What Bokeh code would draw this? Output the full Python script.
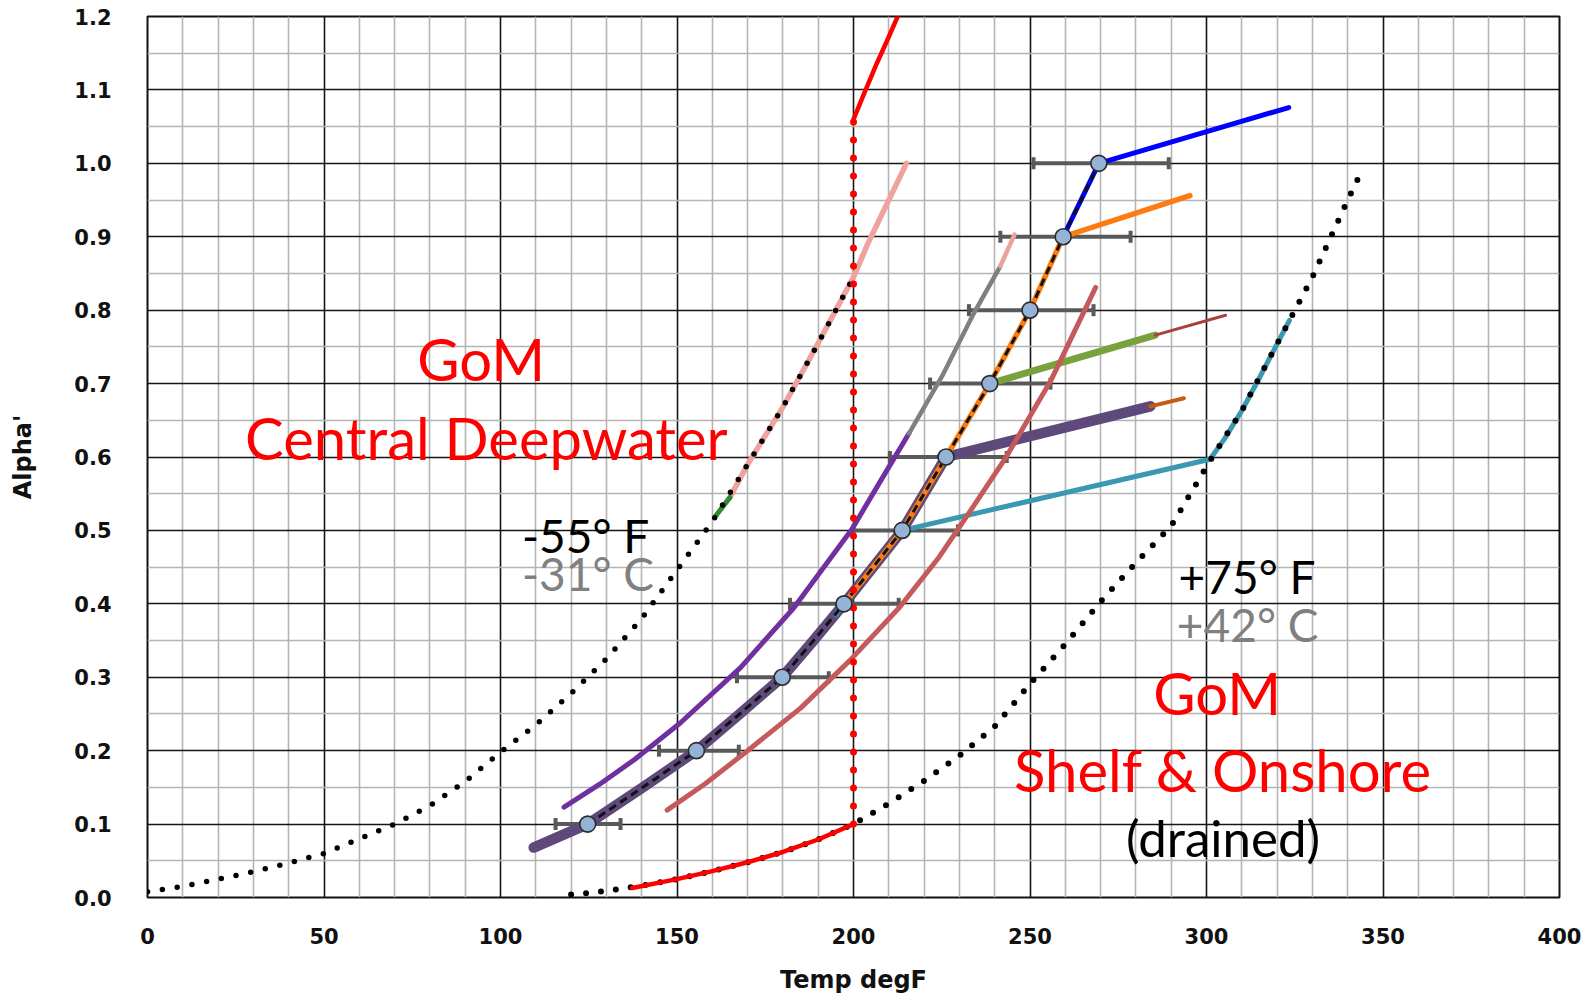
from bokeh.plotting import figure
from bokeh.models import (Range1d, FixedTicker, PrintfTickFormatter, Label,
                          Whisker, TeeHead, ColumnDataSource)
from bokeh.embed import file_html
from bokeh.resources import INLINE

# ---------------- data ----------------
x_ticks = [0, 50, 100, 150, 200, 250, 300, 350, 400]
y_ticks = [0.0, 0.1, 0.2, 0.3, 0.4, 0.5, 0.6, 0.7, 0.8, 0.9, 1.0, 1.1, 1.2]
x_minor = [10, 20, 30, 40, 60, 70, 80, 90, 110, 120, 130, 140, 160, 170, 180, 190,
           210, 220, 230, 240, 260, 270, 280, 290, 310, 320, 330, 340, 360, 370, 380, 390]
y_minor = [0.05, 0.15, 0.25, 0.35, 0.45, 0.55, 0.65, 0.75, 0.85, 0.95, 1.05, 1.15]

# measured points with horizontal error bars
lab_temp = [124.7, 155.5, 179.8, 197.3, 213.8, 226.2, 238.6, 250.0, 259.4, 269.5]
lab_alpha = [0.1, 0.2, 0.3, 0.4, 0.5, 0.6, 0.7, 0.8, 0.9, 1.0]
err_lo = [115.6, 144.9, 167.0, 182.0, 200.0, 210.3, 221.7, 232.7, 241.6, 251.0]
err_hi = [134.0, 167.5, 193.0, 212.8, 229.6, 243.4, 255.8, 268.0, 278.5, 289.3]

# main trend (thick purple, branching at 0.6)
purple_x = [109.4, 124.7, 140.0, 155.5, 167.5, 179.8, 188.5, 197.3, 213.8, 226.2, 284.1]
purple_y = [0.068, 0.1, 0.149, 0.2, 0.249, 0.3, 0.349, 0.4, 0.5, 0.6, 0.669]
purple_tail_x = [284.1, 293.6]
purple_tail_y = [0.669, 0.680]

orange_x = [199.0, 213.8, 226.2, 238.6, 250.0, 259.4, 295.3]
orange_y = [0.41, 0.5, 0.6, 0.7, 0.8, 0.9, 0.956]

blue_x = [259.4, 269.5, 323.3]
blue_y = [0.9, 1.0, 1.076]

teal_x = [195.0, 197.3, 213.8, 301.0, 305.0, 310.0, 315.0, 320.0, 323.5]
teal_y = [0.385, 0.4, 0.5, 0.597, 0.624, 0.663, 0.708, 0.754, 0.786]

green_x = [238.6, 285.5]
green_y = [0.7, 0.766]
green_tail_x = [285.5, 305.4]
green_tail_y = [0.766, 0.793]

dash_x = [124.7, 140.0, 155.5, 167.5, 179.8, 188.5, 197.3, 213.8, 226.2, 238.6, 250.0, 259.4, 269.5]
dash_y = [0.1, 0.149, 0.2, 0.249, 0.3, 0.349, 0.4, 0.5, 0.6, 0.7, 0.8, 0.9, 1.0]

# upper-left curve family
violet_x = [118.0, 128.0, 138.0, 151.0, 168.0, 183.0, 199.6, 207.0, 215.7]
violet_y = [0.123, 0.154, 0.188, 0.238, 0.313, 0.394, 0.502, 0.562, 0.632]
gray_x = [215.7, 225.1, 234.0, 241.6]
gray_y = [0.632, 0.71, 0.795, 0.86]
pink2_x = [241.6, 245.6]
pink2_y = [0.86, 0.903]

rose_x = [147.2, 158.0, 170.0, 185.0, 199.0, 213.0, 224.0, 234.0, 243.0, 256.0, 268.6]
rose_y = [0.119, 0.155, 0.2, 0.258, 0.323, 0.395, 0.462, 0.533, 0.598, 0.705, 0.831]

# -55 F envelope (left dotted)
left_x = [0, 10, 20, 30, 40, 50, 60, 70, 80, 90, 100, 110, 120, 130, 140, 150,
          160, 170, 180, 190, 200]
left_y = [0.008, 0.015, 0.025, 0.035, 0.047, 0.06, 0.08, 0.1, 0.125, 0.158, 0.198,
          0.235, 0.278, 0.325, 0.38, 0.446, 0.512, 0.59, 0.668, 0.755, 0.845]
greenbit_x = [161.0, 165.0]
greenbit_y = [0.52, 0.545]
pink_x = [165.0, 170.0, 180.0, 190.0, 200.0, 204.0, 208.0, 215.0]
pink_y = [0.545, 0.59, 0.668, 0.755, 0.845, 0.89, 0.93, 1.0]

# +75 F envelope (right dotted)
right_x = [120, 125, 130, 140, 150, 160, 170, 180, 190, 200, 210, 220, 230, 240,
           250, 260, 270, 280, 290, 301, 310, 320, 330, 340, 344]
right_y = [0.004, 0.006, 0.009, 0.016, 0.025, 0.036, 0.048, 0.062, 0.079, 0.1,
           0.128, 0.159, 0.193, 0.233, 0.291, 0.345, 0.403, 0.456, 0.506, 0.595,
           0.663, 0.754, 0.845, 0.95, 0.99]

# red 200 F boundary
red_low_x = [137.3, 150.0, 160.0, 170.0, 180.0, 190.0, 200.0]
red_low_y = [0.013, 0.025, 0.036, 0.048, 0.062, 0.079, 0.1]
red_vert_x = [200.0, 200.0]
red_vert_y = [0.1, 1.06]
red_top_x = [200.0, 203.0, 206.5, 209.6, 212.5]
red_top_y = [1.06, 1.095, 1.135, 1.168, 1.2]

# ---------------- figure ----------------
p = figure(frame_width=1412, frame_height=881,
           min_border_left=147, min_border_right=24, min_border_top=16, min_border_bottom=80,
           x_range=Range1d(0, 400), y_range=Range1d(0, 1.2),
           output_backend="svg", toolbar_location=None)
p.background_fill_color = "white"
p.outline_line_color = "#111111"
p.outline_line_width = 2

xt = FixedTicker(ticks=x_ticks, minor_ticks=x_minor)
yt = FixedTicker(ticks=y_ticks, minor_ticks=y_minor)
p.xaxis.ticker = xt
p.yaxis.ticker = yt
p.xgrid.ticker = xt
p.ygrid.ticker = yt
for g in (p.xgrid, p.ygrid):
    g.grid_line_color = "#161616"
    g.grid_line_width = 1.6
    g.minor_grid_line_color = "#b4b4b4"
    g.minor_grid_line_width = 1.6

p.yaxis.formatter = PrintfTickFormatter(format="%.1f")
for ax in (p.xaxis, p.yaxis):
    ax.axis_line_color = None
    ax.major_tick_line_color = None
    ax.minor_tick_line_color = None
    ax.major_label_text_font = "DejaVu Sans"
    ax.major_label_text_font_style = "bold"
    ax.major_label_text_font_size = "21px"
    ax.major_label_text_color = "#111111"
    ax.axis_label_text_font = "DejaVu Sans"
    ax.axis_label_text_font_style = "bold"
    ax.axis_label_text_font_size = "24px"
    ax.axis_label_text_color = "#111111"
p.xaxis.axis_label = "Temp degF"
p.yaxis.axis_label = "Alpha'"
p.xaxis.major_label_standoff = 24
p.yaxis.major_label_standoff = 30
p.xaxis.axis_label_standoff = 19
p.yaxis.axis_label_standoff = 34

# error bars
src = ColumnDataSource(dict(y=lab_alpha, lo=err_lo, hi=err_hi))
wc = "#595959"
wh = Whisker(source=src, base="y", lower="lo", upper="hi", dimension="width",
             line_color=wc, line_width=4,
             lower_head=TeeHead(size=12, line_color=wc, line_width=4),
             upper_head=TeeHead(size=12, line_color=wc, line_width=4))
p.add_layout(wh)

def ln(x, y, color, w, dash="solid", cap="round"):
    p.line(x, y, line_color=color, line_width=w, line_dash=dash, line_cap=cap,
           line_join="round")

# curves
ln(violet_x, violet_y, "#7030a0", 5)
ln(gray_x, gray_y, "#808080", 4.5)
ln(pink2_x, pink2_y, "#eba29d", 4.5)
ln(purple_x, purple_y, "#5f497a", 10.5)
ln(purple_tail_x, purple_tail_y, "#c65b12", 4)
ln(teal_x, teal_y, "#3a98b0", 5)
ln(orange_x, orange_y, "#fb7d12", 5.5)
ln(green_x, green_y, "#79a23f", 7)
ln(green_tail_x, green_tail_y, "#a8403c", 3)
ln(blue_x, blue_y, "#0000ff", 5)
ln(rose_x, rose_y, "#c55a5a", 5)
ln(dash_x, dash_y, "#111111", 3, dash="8 5", cap="butt")

# envelopes
ln(pink_x, pink_y, "#eea39e", 5.5)
ln(greenbit_x, greenbit_y, "#2e8b2e", 5)
ln(left_x, left_y, "#000000", 5.5, dash="0 15")
ln(right_x, right_y, "#000000", 6, dash="0 15")

ln(red_low_x, red_low_y, "#ff0000", 4.5)
ln(red_top_x, red_top_y, "#ff0000", 4.5)
ln(red_vert_x, red_vert_y, "#ff0000", 7, dash="0 18")

# points
p.scatter(lab_temp, lab_alpha, size=16, fill_color="#95b3d7",
          line_color="#2b2b2b", line_width=1.6)

# annotations
def lab(x, y, t, color, size, align="left"):
    p.add_layout(Label(x=x, y=y, text=t, text_color=color, text_font="Lato",
                       text_font_size=size, text_align=align,
                       text_baseline="alphabetic"))

lab(94.5, 0.734, "GoM", "#ff0000", "58px", "center")
lab(96.0, 0.627, "Central Deepwater", "#ff0000", "58px", "center")
lab(106.1, 0.493, "-55° F", "#000000", "46px")
lab(106.1, 0.4415, "-31° C", "#808080", "46px")
lab(292.1, 0.437, "+75° F", "#000000", "46px")
lab(291.6, 0.3715, "+42° C", "#808080", "46px")
lab(303.0, 0.279, "GoM", "#ff0000", "58px", "center")
lab(304.7, 0.1745, "Shelf & Onshore", "#ff0000", "58px", "center")
lab(304.7, 0.0815, "(drained)", "#000000", "51px", "center")

open("out.html", "w").write(file_html(p, INLINE))
